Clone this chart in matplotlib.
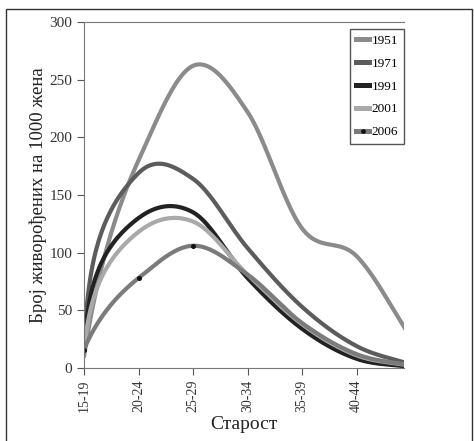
import numpy as np
import matplotlib
matplotlib.use('Agg')
import matplotlib.pyplot as plt
from matplotlib.patches import Rectangle
from matplotlib.lines import Line2D

plt.rcParams['font.family'] = ['Liberation Serif', 'DejaVu Serif']

ages = ['15-19', '20-24', '25-29', '30-34', '35-39', '40-44', '45-49']
years = ['1951', '1971', '1991', '2001', '2006']

r1951 = [10, 180, 262, 222, 121, 97, 26]
r1971 = [19, 169, 164, 104, 53, 19, 3]
r1991 = [17, 130, 135, 78, 34, 8, 1]
r2001 = [15, 118, 127, 81, 38, 11, 2]
r2006 = [16, 78, 106, 81, 39, 12, 2]

colors = ['#8b8b8b', '#5c5c5c', '#222222', '#a9a9a9', '#7b7b7b']
# how strongly the first segment (15-19 -> 20-24) bends
bend = [2, 20, 20, 12, 2]

N = 40


def smooth(y, a):
    # log-shaped rise in the first segment, cubic hermite afterwards
    y = np.asarray(y, float)
    t = np.linspace(0, 1, N, endpoint=False)
    la = np.log(1 + a)
    xs = [t]
    ys = [y[0] + (y[1] - y[0]) * np.log(1 + a * t) / la]
    m = np.zeros_like(y)
    m[1:-1] = (y[2:] - y[:-2]) / 2
    m[1] = (y[1] - y[0]) * a / ((1 + a) * la)
    m[-1] = y[-1] - y[-2]
    h00 = 1 - 3 * t ** 2 + 2 * t ** 3
    h10 = t - 2 * t ** 2 + t ** 3
    h01 = 3 * t ** 2 - 2 * t ** 3
    h11 = -t ** 2 + t ** 3
    for i in range(1, len(y) - 1):
        xs.append(i + t)
        ys.append(h00 * y[i] + h10 * m[i] + h01 * y[i + 1] + h11 * m[i + 1])
    xs.append([len(y) - 1])
    ys.append([y[-1]])
    return np.concatenate(xs), np.concatenate(ys)


fig = plt.figure(figsize=(4.74, 4.41), dpi=100)
fig.patches.append(Rectangle((6 / 474, -0.01), 466 / 474, 1 - 9 / 441 + 0.01,
                             transform=fig.transFigure, fill=False,
                             edgecolor='#333333', linewidth=1.0))
ax = fig.add_axes([84 / 474, 1 - 368 / 441, 320 / 474, 346 / 441])

x = np.arange(len(ages))
series = [r1951, r1971, r1991, r2001, r2006]
handles = []
for yr, data, c, a in zip(years, series, colors, bend):
    sx, sy = smooth(data, a)
    ax.plot(sx, sy, color=c, linewidth=3.0, solid_capstyle='round')
    if yr == '2006':
        ax.plot(x[:3], data[:3], linestyle='none', marker='o', markersize=2.6,
                color='#111111')
        handles.append(Line2D([], [], color=c, linewidth=3.6, marker='o',
                              markersize=2.4, markerfacecolor='#111111',
                              markeredgecolor='#111111', label=yr))
    else:
        handles.append(Line2D([], [], color=c, linewidth=3.6, label=yr))

ax.set_xlim(0, 5.87)
ax.set_ylim(0, 300)
ax.set_yticks([0, 50, 100, 150, 200, 250, 300])
ax.set_xticks(x[:6])
ax.set_xticklabels(ages[:6], rotation=90, fontsize=10)
ax.tick_params(axis='y', labelsize=11, colors='#555555', labelcolor='#333333', length=5)
ax.tick_params(axis='x', colors='#555555', labelcolor='#333333', length=5)
for s in ['left', 'bottom', 'top']:
    ax.spines[s].set_color('#777777')
ax.spines['right'].set_visible(False)

ax.set_ylabel('Број живорођених на 1000 жена', fontsize=13.5, color='#222222', labelpad=2)
ax.set_xlabel('Старост', fontsize=14, color='#222222', labelpad=3)

leg = ax.legend(handles=handles, loc='upper right', bbox_to_anchor=(1.0, 0.98),
                borderaxespad=0, fontsize=9.5, handlelength=1.0, handletextpad=0.15,
                labelspacing=0.8, borderpad=0.45, fancybox=False, framealpha=1,
                numpoints=1)
leg.get_frame().set_edgecolor('#555555')
leg.get_frame().set_linewidth(1.0)

fig.savefig('out.png', dpi=100)
